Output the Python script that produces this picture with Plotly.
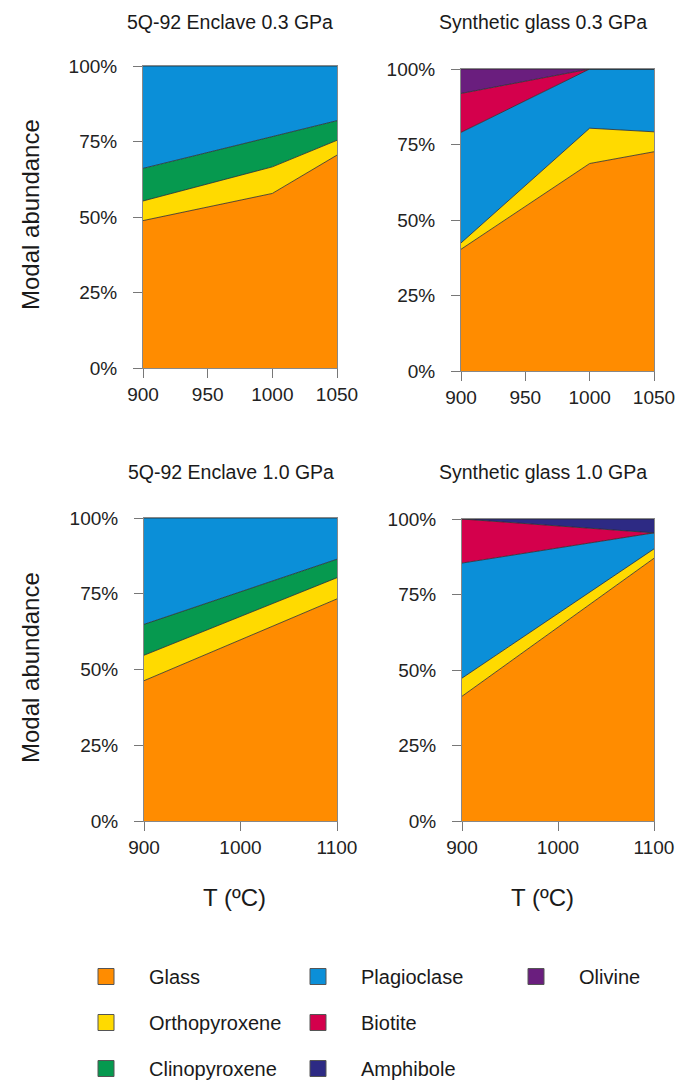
import plotly.graph_objects as go

W, H = 675, 1081

# ---------------- data ----------------
minerals = ["Glass", "Orthopyroxene", "Clinopyroxene", "Plagioclase", "Biotite", "Amphibole", "Olivine"]
colors = {
    "Glass": "#FF8C00",
    "Orthopyroxene": "#FFDA00",
    "Clinopyroxene": "#06994F",
    "Plagioclase": "#0B8FD8",
    "Biotite": "#D4004C",
    "Amphibole": "#2D2A84",
    "Olivine": "#6A1E7E",
}

# 5Q-92 Enclave 0.3 GPa
t_enc_03 = [900, 1000, 1050]
enc_03 = {
    "Glass": [48.8, 57.8, 70.5],
    "Orthopyroxene": [6.5, 8.8, 4.9],
    "Clinopyroxene": [10.8, 10.0, 6.5],
    "Plagioclase": [33.9, 23.4, 18.1],
}

# Synthetic glass 0.3 GPa
t_syn_03 = [900, 1000, 1050]
syn_03 = {
    "Glass": [40.3, 68.7, 72.6],
    "Orthopyroxene": [2.1, 11.7, 6.6],
    "Plagioclase": [36.6, 19.6, 20.8],
    "Biotite": [12.9, 0.0, 0.0],
    "Olivine": [8.1, 0.0, 0.0],
}

# 5Q-92 Enclave 1.0 GPa
t_enc_10 = [900, 1100]
enc_10 = {
    "Glass": [46.3, 73.3],
    "Orthopyroxene": [8.4, 7.0],
    "Clinopyroxene": [10.2, 6.1],
    "Plagioclase": [35.1, 13.6],
}

# Synthetic glass 1.0 GPa
t_syn_10 = [900, 1100]
syn_10 = {
    "Glass": [41.3, 87.0],
    "Orthopyroxene": [6.0, 3.1],
    "Plagioclase": [38.1, 5.3],
    "Biotite": [14.6, 0.0],
    "Amphibole": [0.0, 4.6],
}

panel_titles = ["5Q-92 Enclave 0.3 GPa", "Synthetic glass 0.3 GPa",
                "5Q-92 Enclave 1.0 GPa", "Synthetic glass 1.0 GPa"]
y_ticks = [0, 25, 50, 75, 100]
y_ticktext = ["0%", "25%", "50%", "75%", "100%"]
x_ticks_03 = [900, 950, 1000, 1050]
x_ticks_10 = [900, 1000, 1100]

legend_cols = [["Glass", "Orthopyroxene", "Clinopyroxene"],
               ["Plagioclase", "Biotite", "Amphibole"],
               ["Olivine"]]

# ---------------- layout helpers (screen px -> paper) ----------------
def px(x):
    return x / W

def py(y):
    return 1 - y / H

panels = [
    dict(t=t_enc_03, d=enc_03, xr=[900, 1050], xt=x_ticks_03, x0=143, x1=337, y0=66, y1=368),
    dict(t=t_syn_03, d=syn_03, xr=[900, 1050], xt=x_ticks_03, x0=461, x1=654, y0=69, y1=371),
    dict(t=t_enc_10, d=enc_10, xr=[900, 1100], xt=x_ticks_10, x0=144, x1=337, y0=518, y1=821),
    dict(t=t_syn_10, d=syn_10, xr=[900, 1100], xt=x_ticks_10, x0=462, x1=654, y0=519, y1=821),
]

fig = go.Figure()
layout = {}
font_family = "Liberation Sans, Arial, sans-serif"
tick_font = dict(family=font_family, size=19, color="#222222")

for i, p in enumerate(panels, start=1):
    sfx = "" if i == 1 else str(i)
    for m in minerals:
        if m not in p["d"]:
            continue
        fig.add_trace(go.Scatter(
            x=p["t"], y=p["d"][m], mode="lines", stackgroup=f"s{i}",
            line=dict(color="#2b2b2b", width=0.8),
            fillcolor=colors[m], name=m, showlegend=False,
            xaxis=f"x{sfx}", yaxis=f"y{sfx}", hoverinfo="skip",
        ))
    layout[f"xaxis{sfx}"] = dict(
        domain=[px(p["x0"]), px(p["x1"])], anchor=f"y{sfx}",
        range=p["xr"], tickvals=p["xt"], ticks="outside", ticklen=9,
        tickcolor="#777777", tickwidth=1, showline=True, linecolor="#888888",
        linewidth=1, mirror=True, showgrid=False, zeroline=False,
        tickfont=tick_font, ticklabelstandoff=0, ticklabeloverflow="allow",
    )
    layout[f"yaxis{sfx}"] = dict(
        domain=[py(p["y1"]), py(p["y0"])], anchor=f"x{sfx}",
        range=[0, 100], tickvals=y_ticks, ticktext=y_ticktext,
        ticks="outside", ticklen=9, tickcolor="#777777", tickwidth=1,
        showline=True, linecolor="#888888", linewidth=1, mirror=True,
        showgrid=False, zeroline=False, tickfont=tick_font,
        ticklabelstandoff=12, ticklabeloverflow="allow",
    )

# legend entries (three columns -> three legends)
legend_names = ["legend", "legend2", "legend3"]
for col, lname in zip(legend_cols, legend_names):
    for m in col:
        fig.add_trace(go.Scatter(
            x=[None], y=[None], mode="markers", name=m,
            marker=dict(symbol="square", size=16, color=colors[m],
                        line=dict(color="#555555", width=1)),
            legend=lname, legendgroup=m, showlegend=True,
        ))

legend_x = [106, 318, 536]  # symbol centers in px
for lx, lname in zip(legend_x, legend_names):
    layout[lname] = dict(
        x=px(lx - 43), xanchor="left", y=py(957), yanchor="top",
        orientation="v", itemwidth=76, tracegroupgap=17,
        font=dict(family=font_family, size=20, color="#1a1a1a"),
        bgcolor="rgba(0,0,0,0)", borderwidth=0, itemclick=False,
        itemdoubleclick=False,
    )

annotations = []
title_pos = [(230, 22), (543, 22), (231, 472), (543, 472)]
for txt, (ax, ay) in zip(panel_titles, title_pos):
    annotations.append(dict(text=txt, x=px(ax), y=py(ay), xref="paper", yref="paper",
                            xanchor="center", yanchor="middle", showarrow=False,
                            font=dict(family=font_family, size=19.5, color="#1a1a1a")))
for ay in (215, 668):
    annotations.append(dict(text="Modal abundance", x=px(30), y=py(ay), xref="paper", yref="paper",
                            xanchor="center", yanchor="middle", showarrow=False, textangle=-90,
                            font=dict(family=font_family, size=24, color="#1a1a1a")))
for ax in (234, 542):
    annotations.append(dict(text="T (ºC)", x=px(ax), y=py(897), xref="paper", yref="paper",
                            xanchor="center", yanchor="middle", showarrow=False,
                            font=dict(family=font_family, size=24, color="#1a1a1a")))

fig.update_layout(
    width=W, height=H, margin=dict(l=0, r=0, t=0, b=0, autoexpand=False),
    paper_bgcolor="white", plot_bgcolor="white",
    annotations=annotations, **layout,
)

fig.write_html("out.html", config={"displayModeBar": False},
               post_script="document.body.style.margin='0px';")
